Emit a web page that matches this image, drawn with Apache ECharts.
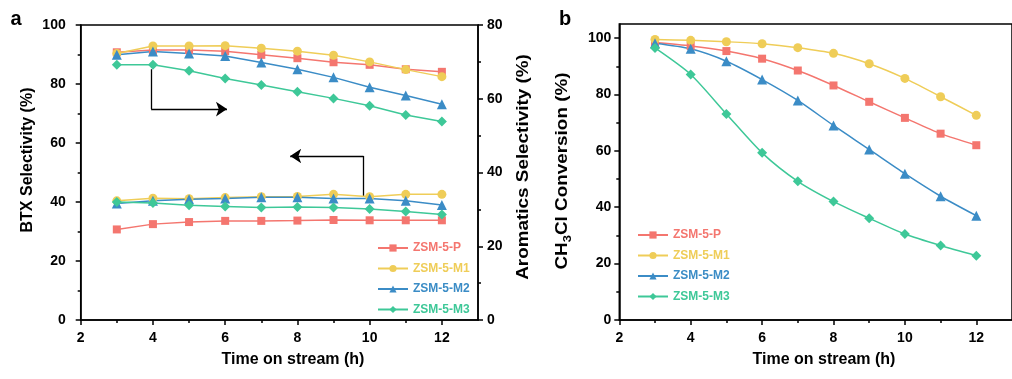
<!DOCTYPE html>
<html>
<head>
<meta charset="utf-8">
<script src="https://cdn.jsdelivr.net/npm/echarts@6/dist/echarts.min.js"></script>
<style>
html,body{margin:0;padding:0;background:#fff;}
#c{width:1012px;height:379px;}
</style>
</head>
<body>
<div id="c"></div>
<script>
// ---- data ----
var times = [3, 4, 5, 6, 7, 8, 9, 10, 11, 12];
var names = ['ZSM-5-P', 'ZSM-5-M1', 'ZSM-5-M2', 'ZSM-5-M3'];
// panel a, aromatics selectivity (right axis)
var aroP  = [72.6, 73.2, 73.2, 72.9, 71.9, 71.0, 69.9, 69.2, 68.0, 67.3];
var aroM1 = [72.3, 74.3, 74.3, 74.4, 73.7, 72.9, 71.8, 70.0, 67.9, 66.0];
var aroM2 = [71.9, 72.8, 72.3, 71.6, 69.8, 68.0, 65.8, 63.1, 60.9, 58.5];
var aroM3 = [69.2, 69.2, 67.6, 65.5, 63.7, 61.9, 60.1, 58.1, 55.6, 53.8];
// panel a, BTX selectivity (left axis)
var btxP  = [30.7, 32.5, 33.2, 33.6, 33.6, 33.7, 33.9, 33.8, 33.8, 33.8];
var btxM1 = [40.4, 41.3, 41.1, 41.5, 41.8, 41.9, 42.6, 41.8, 42.6, 42.6];
var btxM2 = [39.5, 40.4, 40.9, 41.2, 41.6, 41.6, 41.2, 41.2, 40.4, 39.0];
var btxM3 = [40.0, 39.7, 38.9, 38.5, 38.1, 38.3, 38.1, 37.6, 36.8, 35.8];
// panel b, CH3Cl conversion
var convP  = [98.4, 97.2, 95.4, 92.7, 88.5, 83.2, 77.4, 71.7, 66.1, 62.0];
var convM1 = [99.5, 99.2, 98.7, 98.0, 96.6, 94.6, 90.9, 85.7, 79.2, 72.6];
var convM2 = [98.2, 96.2, 91.8, 85.3, 77.9, 69.0, 60.5, 51.9, 43.9, 37.0];
var convM3 = [96.5, 87.1, 73.1, 59.3, 49.2, 42.0, 36.1, 30.5, 26.4, 22.8];
// tick labels
var xTicks = [2, 4, 6, 8, 10, 12];
var xMinor = [3, 5, 7, 9, 11];
var yTicksB = [0, 20, 40, 60, 80, 100];
var yMinorB = [10, 30, 50, 70, 90];
// arrow annotations (panel a, left-axis units)
var arrowRight = [[3.95, 85.0], [3.95, 71.5], [6.05, 71.5]];
var arrowLeft  = [[9.83, 41.8], [9.83, 55.6], [7.8, 55.6]];

var colors = ['#F4766F', '#EFCD58', '#3B8CC6', '#3EC898'];
var symbols = ['rect', 'circle', 'triangle', 'diamond'];
var symSizes = [8, 9, 10, 10];

var FONT = '"Liberation Sans", Arial, sans-serif';
var axisLine = {show: true, lineStyle: {color: '#000', width: 1.5}};
var lblStyle = {color: '#000', fontFamily: FONT, fontWeight: 'bold', fontSize: 14};

function pairs(ys) { return times.map(function (t, i) { return [t, ys[i]]; }); }

function lineSeries(name, idx, ys, xi, yi, smooth) {
  return {
    type: 'line', name: name, xAxisIndex: xi, yAxisIndex: yi,
    data: pairs(ys), smooth: smooth || false,
    symbol: symbols[idx], symbolSize: symSizes[idx],
    itemStyle: {color: colors[idx]},
    lineStyle: {color: colors[idx], width: 1.5},
    z: 3
  };
}

function majorX(grid) {
  return {
    type: 'value', gridIndex: grid, min: 2, max: 13, position: 'bottom',
    axisLine: axisLine,
    axisTick: {show: true, inside: false, length: 5, customValues: xTicks, lineStyle: {color: '#000', width: 1.5}},
    axisLabel: Object.assign({customValues: xTicks, margin: 11}, lblStyle),
    splitLine: {show: false}
  };
}
function minorX(grid) {
  return {
    type: 'value', gridIndex: grid, min: 2, max: 13, position: 'bottom',
    axisLine: {show: false},
    axisTick: {show: true, inside: false, length: 3, customValues: xMinor, lineStyle: {color: '#000', width: 1.5}},
    axisLabel: {show: false},
    splitLine: {show: false}
  };
}

var option = {
  animation: false,
  backgroundColor: '#fff',
  grid: [
    {left: 80.7, right: 534, top: 25, bottom: 59, show: true, borderColor: '#000', borderWidth: 1.5, backgroundColor: 'transparent'},
    {left: 619.3, right: -10, top: 24, bottom: 59, show: true, borderColor: '#000', borderWidth: 1.5, backgroundColor: 'transparent'}
  ],
  xAxis: [majorX(0), minorX(0), majorX(1), minorX(1)],
  yAxis: [
    {type: 'value', gridIndex: 0, position: 'left', min: 0, max: 100, interval: 20,
     axisLine: axisLine,
     axisTick: {show: true, length: 5, lineStyle: {color: '#000', width: 1.5}},
     minorTick: {show: true, splitNumber: 2, length: 3, lineStyle: {color: '#000', width: 1.5}},
     axisLabel: Object.assign({margin: 15}, lblStyle), splitLine: {show: false}},
    {type: 'value', gridIndex: 0, position: 'right', min: 0, max: 80, interval: 20,
     axisLine: axisLine,
     axisTick: {show: true, length: 5, lineStyle: {color: '#000', width: 1.5}},
     minorTick: {show: true, splitNumber: 2, length: 3, lineStyle: {color: '#000', width: 1.5}},
     axisLabel: Object.assign({margin: 9}, lblStyle), splitLine: {show: false}},
    {type: 'value', gridIndex: 1, position: 'left', min: 0, max: 105,
     axisLine: axisLine,
     axisTick: {show: true, length: 5, customValues: yTicksB, lineStyle: {color: '#000', width: 1.5}},
     axisLabel: Object.assign({customValues: yTicksB, margin: 8}, lblStyle), splitLine: {show: false}},
    {type: 'value', gridIndex: 1, position: 'left', min: 0, max: 105,
     axisLine: {show: false},
     axisTick: {show: true, length: 3, customValues: yMinorB, lineStyle: {color: '#000', width: 1.5}},
     axisLabel: {show: false}, splitLine: {show: false}}
  ],
  legend: [
    {orient: 'vertical', left: 372, top: 237, itemWidth: 30, itemHeight: 9, itemGap: 8.5,
     textStyle: {fontFamily: FONT, fontWeight: 'bold', fontSize: 12},
     data: names.map(function (n, i) { return {name: n, textStyle: {color: colors[i]}}; })},
    {orient: 'vertical', left: 632, top: 224, itemWidth: 30, itemHeight: 9, itemGap: 8.5,
     textStyle: {fontFamily: FONT, fontWeight: 'bold', fontSize: 12},
     data: names.map(function (n, i) { return {name: n, textStyle: {color: colors[i]}}; })}
  ],
  series: [
    lineSeries(names[0], 0, aroP, 0, 1),
    lineSeries(names[1], 1, aroM1, 0, 1),
    lineSeries(names[2], 2, aroM2, 0, 1),
    lineSeries(names[3], 3, aroM3, 0, 1),
    lineSeries(names[0], 0, btxP, 0, 0),
    lineSeries(names[1], 1, btxM1, 0, 0),
    lineSeries(names[2], 2, btxM2, 0, 0),
    lineSeries(names[3], 3, btxM3, 0, 0),
    lineSeries(names[0], 0, convP, 2, 2, 0.25),
    lineSeries(names[1], 1, convM1, 2, 2, 0.25),
    lineSeries(names[2], 2, convM2, 2, 2, 0.25),
    lineSeries(names[3], 3, convM3, 2, 2, 0.25),
    {
      type: 'lines', coordinateSystem: 'cartesian2d', xAxisIndex: 0, yAxisIndex: 0,
      symbol: ['none', 'none'],
      lineStyle: {color: '#000', width: 1.3, opacity: 1},
      data: [{coords: [arrowRight[0], arrowRight[1]]}, {coords: [arrowLeft[0], arrowLeft[1]]}],
      z: 2
    },
    {
      type: 'lines', coordinateSystem: 'cartesian2d', xAxisIndex: 0, yAxisIndex: 0,
      symbol: ['none', 'arrow'], symbolSize: 11,
      lineStyle: {color: '#000', width: 1.3, opacity: 1},
      data: [{coords: [arrowRight[1], arrowRight[2]]}, {coords: [arrowLeft[1], arrowLeft[2]]}],
      z: 2
    }
  ],
  graphic: [
    {type: 'text', x: 16, y: 19, style: {text: 'a', font: 'bold 20px ' + FONT, fill: '#000', align: 'center', verticalAlign: 'middle'}},
    {type: 'text', x: 565, y: 19, style: {text: 'b', font: 'bold 20px ' + FONT, fill: '#000', align: 'center', verticalAlign: 'middle'}},
    {type: 'text', x: 28, y: 160, rotation: Math.PI / 2, style: {text: 'BTX Selectivity (%)', font: 'bold 16px ' + FONT, fill: '#000', align: 'center', verticalAlign: 'middle'}},
    {type: 'text', x: 524, y: 167, rotation: Math.PI / 2, scaleX: 1.18, style: {text: 'Aromatics Selectivity (%)', font: 'bold 16px ' + FONT, fill: '#000', align: 'center', verticalAlign: 'middle'}},
    {type: 'text', x: 563, y: 171, rotation: Math.PI / 2, scaleX: 1.18, style: {
      text: 'CH{sub|3}Cl Conversion (%)', font: 'bold 16px ' + FONT, fill: '#000', align: 'center', verticalAlign: 'middle',
      rich: {sub: {fontSize: 11, fontWeight: 'bold', fontFamily: FONT, fill: '#000', padding: [9, 0, 0, 0]}}}},
    {type: 'text', x: 293, y: 360, style: {text: 'Time on stream (h)', font: 'bold 16px ' + FONT, fill: '#000', align: 'center', verticalAlign: 'middle'}},
    {type: 'text', x: 824, y: 360, style: {text: 'Time on stream (h)', font: 'bold 16px ' + FONT, fill: '#000', align: 'center', verticalAlign: 'middle'}}
  ]
};

var chart = echarts.init(document.getElementById('c'), null, {renderer: 'canvas'});
chart.setOption(option);
</script>
</body>
</html>
